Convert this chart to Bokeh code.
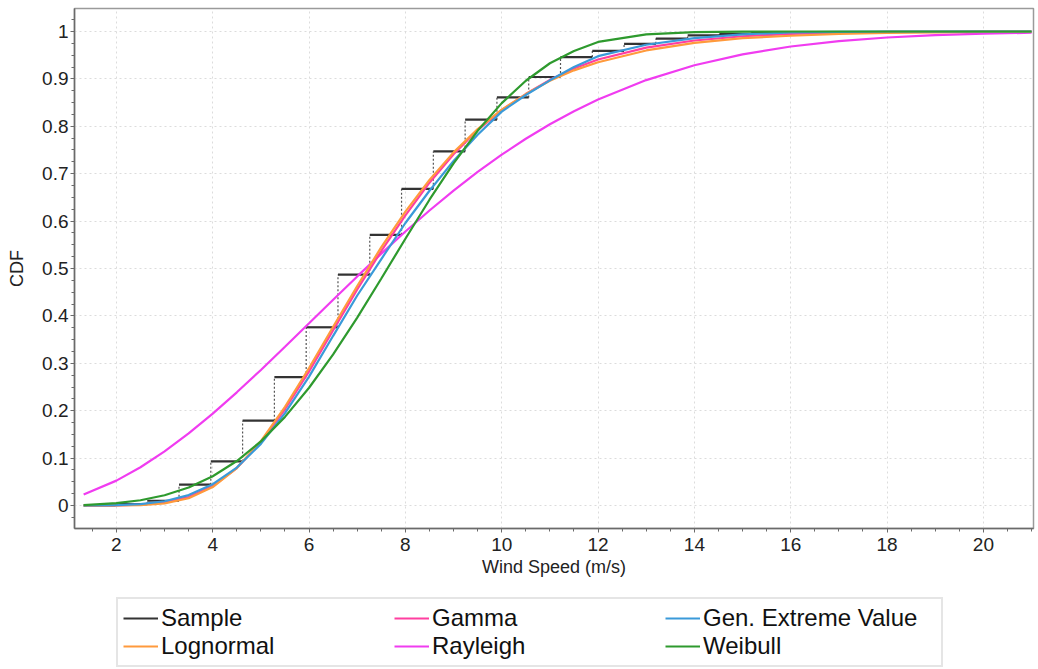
from bokeh.plotting import figure
from bokeh.layouts import column
from bokeh.models import Legend, LegendItem, Range1d, FixedTicker, CustomJSTickFormatter
from bokeh.embed import file_html
from bokeh.resources import INLINE

# ---- data ----
bin_edges = [1.32, 1.98, 2.64, 3.30, 3.96, 4.62, 5.28, 5.94, 6.60, 7.26, 7.92, 8.58,
             9.24, 9.90, 10.56, 11.22, 11.88, 12.54, 13.20, 13.86, 14.52, 15.18, 15.84]
sample_cdf = [0.000, 0.003, 0.010, 0.044, 0.093, 0.179, 0.271, 0.376, 0.487, 0.571, 0.668,
              0.747, 0.814, 0.861, 0.904, 0.946, 0.959, 0.974, 0.985, 0.992, 0.995, 0.998]

wind = [1.32, 2, 2.5, 3, 3.5, 4, 4.5, 5, 5.5, 6, 6.5, 7, 7.5, 8, 8.5, 9, 9.5, 10,
        10.5, 11, 11.5, 12, 13, 14, 15, 16, 17, 18, 19, 20, 21]
lognormal = [0.0000, 0.0001, 0.0008, 0.0044, 0.0153, 0.039, 0.079, 0.136, 0.208, 0.290,
             0.377, 0.463, 0.545, 0.620, 0.687, 0.745, 0.794, 0.835, 0.868, 0.896, 0.918,
             0.935, 0.960, 0.976, 0.986, 0.991, 0.995, 0.997, 0.998, 0.999, 0.999]
gev = [0.0000, 0.001, 0.003, 0.009, 0.022, 0.045, 0.080, 0.130, 0.195, 0.272, 0.358,
       0.443, 0.520, 0.596, 0.664, 0.727, 0.782, 0.831, 0.866, 0.897, 0.925, 0.948,
       0.972, 0.986, 0.994, 0.998, 0.999, 1.000, 1.000, 1.000, 1.000]
gamma = [0.0000, 0.0003, 0.0017, 0.0065, 0.018, 0.041, 0.079, 0.134, 0.203, 0.283,
         0.370, 0.456, 0.537, 0.612, 0.681, 0.741, 0.792, 0.834, 0.868, 0.898, 0.922,
         0.941, 0.966, 0.981, 0.990, 0.995, 0.997, 0.999, 0.999, 1.000, 1.000]
rayleigh = [0.0232, 0.0525, 0.0808, 0.1142, 0.1522, 0.194, 0.2388, 0.286, 0.335, 0.3844,
            0.4342, 0.4833, 0.5314, 0.578, 0.6223, 0.6644, 0.7037, 0.7401, 0.7737, 0.8042,
            0.8317, 0.8564, 0.8975, 0.9287, 0.9518, 0.9683, 0.9797, 0.9873, 0.9923,
            0.9954, 0.9974]
weibull = [0.0010, 0.0049, 0.0111, 0.0217, 0.0381, 0.0617, 0.0938, 0.1353, 0.1869,
           0.2484, 0.3187, 0.3964, 0.4789, 0.5628, 0.6451, 0.7218, 0.7905, 0.8489, 0.8961,
           0.9330, 0.9590, 0.9780, 0.9940, 0.9988, 0.9998, 1.0, 1.0, 1.0, 1.0, 1.0, 1.0]

x_ticks = [2, 4, 6, 8, 10, 12, 14, 16, 18, 20]
y_ticks = [0, 0.1, 0.2, 0.3, 0.4, 0.5, 0.6, 0.7, 0.8, 0.9, 1]

FONT = "Liberation Sans"

p = figure(width=1036, height=590, output_backend="svg", toolbar_location=None,
           x_range=Range1d(1.13, 21.04), y_range=Range1d(-0.0485, 1.0485),
           min_border_left=74, min_border_right=3, min_border_top=8, min_border_bottom=62)
p.outline_line_color = "#9a9a9a"
p.outline_line_width = 1.5

for ax in (p.xaxis[0], p.yaxis[0]):
    ax.axis_line_color = "#6a6a6a"
    ax.axis_line_width = 1.5
    ax.major_tick_line_color = "#6a6a6a"
    ax.minor_tick_line_color = "#6a6a6a"
    ax.major_tick_in = 0
    ax.major_tick_out = 4
    ax.minor_tick_in = 0
    ax.minor_tick_out = 3
    ax.major_label_text_font = FONT
    ax.major_label_text_font_size = "19px"
    ax.major_label_text_color = "#222222"
    ax.axis_label_text_font = FONT
    ax.axis_label_text_font_size = "18px"
    ax.axis_label_text_font_style = "normal"
    ax.axis_label_text_color = "#222222"

p.xaxis.ticker = FixedTicker(ticks=x_ticks, minor_ticks=[v / 2 for v in range(2, 43)])
p.yaxis.ticker = FixedTicker(ticks=y_ticks, minor_ticks=[v / 40 for v in range(-1, 42)])
p.yaxis.formatter = CustomJSTickFormatter(code="return (Math.round(tick*10)/10).toString();")
p.xaxis.axis_label = "Wind Speed (m/s)"
p.yaxis.axis_label = "CDF"
p.xaxis.major_label_standoff = 5
p.xaxis.axis_label_standoff = 3
p.yaxis.major_label_standoff = 2
p.yaxis.axis_label_standoff = 12

p.xgrid.grid_line_color = "#dcdcdc"
p.ygrid.grid_line_color = "#dcdcdc"
p.xgrid.grid_line_dash = "2 3"
p.ygrid.grid_line_dash = "2 3"
p.xgrid.grid_line_width = 1
p.ygrid.grid_line_width = 1

# sample step ECDF
hx0 = bin_edges[:-1]
hx1 = bin_edges[1:]
vx = bin_edges[1:-1]
vy0 = sample_cdf[:-1]
vy1 = sample_cdf[1:]
p.segment(x0=vx, y0=vy0, x1=vx, y1=vy1, line_color="#555555", line_width=1.2, line_dash="2 2")
p.segment(x0=hx0, y0=sample_cdf, x1=hx1, y1=sample_cdf, line_color="#333333", line_width=2.2)

lw = 2.2
c_sample = "#333333"
c_gamma = "#ff3fa0"
c_gev = "#3a9ad9"
c_logn = "#ff9a3c"
c_ray = "#f03cf0"
c_weib = "#2e9a2e"

p.line(wind, rayleigh, line_color=c_ray, line_width=lw)
p.line(wind, gamma, line_color=c_gamma, line_width=lw)
p.line(wind, lognormal, line_color=c_logn, line_width=lw)
p.line(wind, gev, line_color=c_gev, line_width=lw)
p.line(wind, weibull, line_color=c_weib, line_width=lw)

# legend panel (separate figure below the chart; its frame is aligned with the chart's)
leg = figure(width=1036, height=79, output_backend="svg", toolbar_location=None,
             x_range=Range1d(0, 1), y_range=Range1d(0, 1),
             x_axis_location=None, y_axis_location=None,
             min_border_left=0, min_border_right=0, min_border_top=0, min_border_bottom=0)
leg.grid.visible = False
leg.outline_line_color = None

names = ["Sample", "Lognormal", "Gamma", "Rayleigh", "Gen. Extreme Value", "Weibull"]
colors = [c_sample, c_logn, c_gamma, c_ray, c_gev, c_weib]
items = []
for name, col in zip(names, colors):
    r = leg.line(x=[-2, -1], y=[-2, -1], line_color=col, line_width=lw)
    items.append(LegendItem(label=name, renderers=[r]))

legend = Legend(items=items, ncols=3, location=(42, 2),
                label_text_font=FONT, label_text_font_size="24px", label_text_color="#111111",
                glyph_width=35, glyph_height=20, label_standoff=3, label_height=26,
                label_width=233, spacing=-1, padding=5, margin=0,
                border_line_color="#cccccc", border_line_width=2,
                background_fill_color="white", background_fill_alpha=1)
leg.add_layout(legend, "center")

layout = column(p, leg, spacing=0)
open("out.html", "w").write(file_html(layout, INLINE))
